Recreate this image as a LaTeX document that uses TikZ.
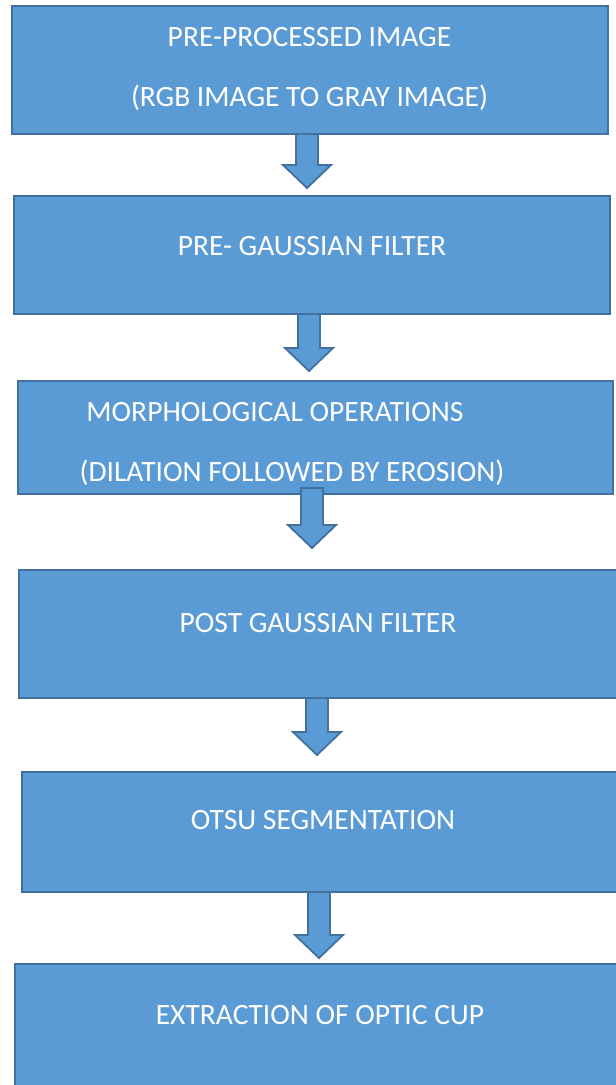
\documentclass[tikz,border=0pt]{standalone}
\usepackage{fontspec}
\setmainfont{Carlito}
\usetikzlibrary{calc}
\definecolor{boxfill}{HTML}{5B9BD5}
\definecolor{boxline}{HTML}{41719C}
\tikzset{
  stagebox/.style={draw=boxline, fill=boxfill, line width=2.4pt, inner sep=0pt, outer sep=0pt, rectangle},
  stagetext/.style={text=white, anchor=base, inner sep=0pt, font=\fontsize{29.5}{29.5}\selectfont},
  flowarrow/.style={draw=boxline, fill=boxfill, line width=1.8pt, line join=miter}
}
% block arrow pointing down from #1 to the tip #2
\newcommand\flowarrow[2]{%
  \draw[flowarrow] ($(#1)+(-11,0)$) -- ($(#1)+(11,0)$) -- ($(#2)+(11,-23)$)
    -- ($(#2)+(24,-23)$) -- (#2) -- ($(#2)+(-24,-23)$) -- ($(#2)+(-11,-23)$) -- cycle;}
\begin{document}
\begin{tikzpicture}[x=1pt,y=-1pt]
\useasboundingbox (0,0) rectangle (616,1085);
\clip (0,0) rectangle (616,1085);
\fill[white] (0,0) rectangle (616,1085);

% stages
\node[stagebox, minimum width=596pt, minimum height=128pt] (b1) at (310,70) {};
\node[stagebox, minimum width=596pt, minimum height=118pt] (b2) at (312,255) {};
\node[stagebox, minimum width=595pt, minimum height=113pt] (b3) at (315.5,437.5) {};
\node[stagebox, minimum width=598pt, minimum height=128pt] (b4) at (318,634) {};
\node[stagebox, minimum width=608pt, minimum height=120pt] (b5) at (326,832) {};
\node[stagebox, minimum width=615pt, minimum height=136pt] (b6) at (322.5,1032) {};

% labels
\node[stagetext] (t1a) at (309.5,46) {PRE-PROCESSED IMAGE};
\node[stagetext] (t1b) at (309.5,106) {(RGB IMAGE TO GRAY IMAGE)};
\node[stagetext] (t2) at (312,255) {PRE- GAUSSIAN FILTER};
\node[stagetext] (t3a) at (275,421) {MORPHOLOGICAL OPERATIONS};
\node[stagetext] (t3b) at (292,481) {(DILATION FOLLOWED BY EROSION)};
\node[stagetext] (t4) at (318,632) {POST GAUSSIAN FILTER};
\node[stagetext] (t5) at (323,829) {OTSU SEGMENTATION};
\node[stagetext] (t6) at (320,1024) {EXTRACTION OF OPTIC CUP};

% arrow ends
\coordinate (a1s) at (307,134); \coordinate (a1e) at (307,188);
\coordinate (a2s) at (309,314); \coordinate (a2e) at (309,371);
\coordinate (a3s) at (312,488); \coordinate (a3e) at (312,548);
\coordinate (a4s) at (317,698); \coordinate (a4e) at (317,755);
\coordinate (a5s) at (319,892); \coordinate (a5e) at (319,958);

\flowarrow{a1s}{a1e}
\flowarrow{a2s}{a2e}
\flowarrow{a3s}{a3e}
\flowarrow{a4s}{a4e}
\flowarrow{a5s}{a5e}
\end{tikzpicture}
\end{document}
